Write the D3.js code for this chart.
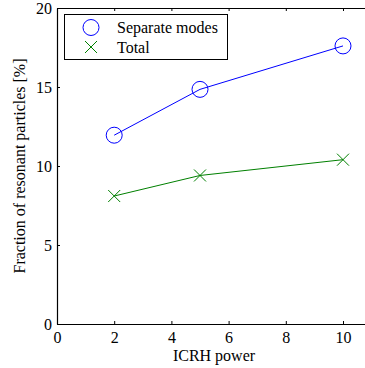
<!DOCTYPE html>
<html lang="en">
<head>
  <meta charset="UTF-8">
  <title>Resonant particles</title>
  <script src="https://cdn.jsdelivr.net/npm/d3@7"></script>
  <style>
    body { margin: 0; background: #fff; }
    svg text { font-family: "Liberation Serif", Times, "Times New Roman", serif; font-size: 16px; fill: #000; }
  </style>
</head>
<body>
  <script>
  // data
  var power = [2, 5, 10];
  var separateModes = [11.95, 14.85, 17.6];
  var total = [8.1, 9.4, 10.4];
  var xTicks = [0, 2, 4, 6, 8, 10];
  var yTicks = [0, 5, 10, 15, 20];

  var w = 365, h = 368;
  var padLeft = 57, padTop = 8, padBottom = 324;

  var x = d3.scaleLinear().domain([0, 11]).range([padLeft, padLeft + 28.6 * 11]);
  var y = d3.scaleLinear().domain([0, 20]).range([padBottom, padTop]);

  var svg = d3.select("body").append("svg")
    .attr("width", w)
    .attr("height", h)
    .attr("font-family", "Liberation Serif, serif");

  // axes, ticks pointing inward
  var xAxis = d3.axisBottom(x).tickValues(xTicks).tickSizeInner(-3).tickSizeOuter(0).tickPadding(8);
  var xTop = d3.axisTop(x).tickValues(xTicks).tickSizeInner(-3).tickSizeOuter(0).tickFormat("");
  var yAxis = d3.axisLeft(y).tickValues(yTicks).tickSizeInner(-3).tickSizeOuter(0).tickPadding(5);

  var gx = svg.append("g").attr("transform", "translate(0," + padBottom + ")").call(xAxis);
  var gt = svg.append("g").attr("transform", "translate(0," + padTop + ")").call(xTop);
  var gy = svg.append("g").attr("transform", "translate(" + padLeft + ",0)").call(yAxis);

  [gx, gt, gy].forEach(function(g) {
    g.attr("font-family", null).attr("font-size", null);
    g.selectAll(".domain").attr("stroke", "#000").attr("stroke-width", 1.2);
    g.selectAll(".tick line").attr("stroke", "#000");
    g.selectAll("text").attr("fill", "#000");
  });
  gx.selectAll("text").attr("dy", "0.71em");

  // axis labels
  svg.append("text")
    .attr("x", 214).attr("y", 361)
    .attr("text-anchor", "middle")
    .text("ICRH power");

  svg.append("text")
    .attr("transform", "translate(25," + 166 + ") rotate(-90)")
    .attr("text-anchor", "middle")
    .text("Fraction of resonant particles [%]");

  var line = d3.line()
    .x(function(d) { return x(d[0]); })
    .y(function(d) { return y(d[1]); });

  var sepData = d3.zip(power, separateModes);
  var totData = d3.zip(power, total);

  // separate modes: blue line with circles
  svg.append("path").datum(sepData)
    .attr("d", line).attr("fill", "none").attr("stroke", "#0000ff").attr("stroke-width", 1);
  svg.selectAll(".circ").data(sepData).enter().append("circle")
    .attr("cx", function(d) { return x(d[0]); })
    .attr("cy", function(d) { return y(d[1]); })
    .attr("r", 8)
    .attr("fill", "none").attr("stroke", "#0000ff").attr("stroke-width", 1);

  // total: green line with crosses
  var cross = function(cx, cy, s) {
    return "M" + (cx - s) + "," + (cy - s) + "L" + (cx + s) + "," + (cy + s) +
           "M" + (cx - s) + "," + (cy + s) + "L" + (cx + s) + "," + (cy - s);
  };
  svg.append("path").datum(totData)
    .attr("d", line).attr("fill", "none").attr("stroke", "#008000").attr("stroke-width", 1);
  svg.selectAll(".cross").data(totData).enter().append("path")
    .attr("d", function(d) { return cross(x(d[0]), y(d[1]), 6); })
    .attr("stroke", "#008000").attr("stroke-width", 1).attr("fill", "none");

  // legend
  svg.append("rect")
    .attr("x", 64.5).attr("y", 14.5).attr("width", 163).attr("height", 45)
    .attr("fill", "#fff").attr("stroke", "#000").attr("stroke-width", 1);
  svg.append("circle")
    .attr("cx", 91).attr("cy", 27.5).attr("r", 8)
    .attr("fill", "none").attr("stroke", "#0000ff");
  svg.append("path")
    .attr("d", cross(91, 47, 6))
    .attr("stroke", "#008000").attr("fill", "none");
  svg.append("text").attr("x", 117).attr("y", 33).text("Separate modes");
  svg.append("text").attr("x", 117).attr("y", 53).text("Total");
  </script>
</body>
</html>
